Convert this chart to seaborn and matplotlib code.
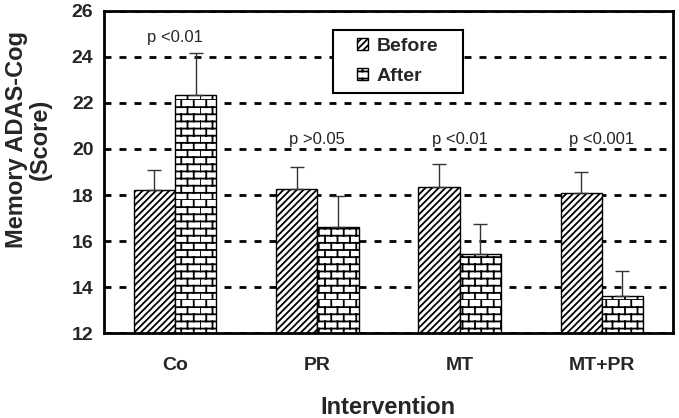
import numpy as np
import pandas as pd
import matplotlib
matplotlib.use("Agg")
import matplotlib.pyplot as plt
from matplotlib import hatch as mhatch
from matplotlib.path import Path
from matplotlib.patches import Rectangle
import seaborn as sns
import warnings
warnings.filterwarnings("ignore")

# data
groups = ["Co", "PR", "MT", "MT+PR"]
before = [18.2, 18.25, 18.35, 18.1]
before_err = [0.9, 0.95, 1.0, 0.9]
after = [22.33, 16.6, 15.45, 13.6]
after_err = [1.85, 1.35, 1.3, 1.1]
p_labels = ["p <0.01", "p >0.05", "p <0.01", "p <0.001"]
p_heights = [24.85, 20.4, 20.4, 20.4]


# brick hatch ('b'), matplotlib has no such pattern built in
class BrickHatch(mhatch.HatchPatternBase):
    def __init__(self, hatch, density):
        self.on = 'b' in hatch
        self.rows = 14
        self.cols = 8
        self.num_vertices = (self.rows * 2 + self.rows * self.cols * 2) if self.on else 0

    def set_vertices_and_codes(self, vertices, codes):
        h = 1.0 / self.rows
        w = 1.0 / self.cols
        k = 0
        for r in range(self.rows):
            y = r * h
            vertices[k] = (0, y); vertices[k + 1] = (1, y)
            codes[k] = Path.MOVETO; codes[k + 1] = Path.LINETO
            k += 2
            off = 0 if r % 2 == 0 else w / 2
            for c in range(self.cols):
                x = c * w + off
                vertices[k] = (x, y); vertices[k + 1] = (x, y + h)
                codes[k] = Path.MOVETO; codes[k + 1] = Path.LINETO
                k += 2


mhatch._hatch_types.append(BrickHatch)

df = pd.DataFrame({
    "Intervention": groups * 2,
    "Score": before + after,
    "Time": ["Before"] * 4 + ["After"] * 4,
})

sns.set_style("white")
plt.rcParams['font.family'] = ['Liberation Sans', 'DejaVu Sans']
plt.rcParams['hatch.linewidth'] = 1.3
plt.rcParams['hatch.color'] = 'black'

fig = plt.figure(figsize=(6.79, 4.18), dpi=100)
ax = fig.add_axes([0.153, 0.203, 0.838, 0.771])

sns.barplot(data=df, x="Intervention", y="Score", hue="Time", order=groups,
            hue_order=["Before", "After"], palette=["white", "white"],
            width=0.58, errorbar=None, edgecolor="black", linewidth=1.0,
            ax=ax, legend=False)

hatches = ["/////", "b"]
for cont, hp, vals, errs in zip(ax.containers, hatches, [before, after], [before_err, after_err]):
    xs = []
    for bar in cont:
        bar.set_hatch(hp)
        bar.set_edgecolor("black")
        xs.append(bar.get_x() + bar.get_width() / 2)
    ax.errorbar(xs, vals, yerr=[np.zeros(len(errs)), errs], fmt="none",
                ecolor="#333333", elinewidth=1.0, capsize=5, capthick=1.0, zorder=1)

for i, (lab, yy) in enumerate(zip(p_labels, p_heights)):
    ax.text(i, yy, lab, ha="center", va="center", fontsize=12)

ax.set_ylim(12, 26)
ax.set_xlim(-0.5, 3.5)
ax.set_yticks(range(12, 27, 2))
ax.yaxis.grid(True, color="black", linestyle=(0, (2.5, 2.9)), linewidth=2.0)
ax.set_axisbelow(True)

for s in ax.spines.values():
    s.set_linewidth(2.0)
    s.set_color("black")

ax.tick_params(axis="y", direction="inout", length=8, width=1.5, labelsize=14)
ax.tick_params(axis="x", which="major", length=0, labelsize=14, pad=17)
ax.set_xticks([0.5, 1.5, 2.5], minor=True)
ax.tick_params(axis="x", which="minor", direction="out", length=5, width=2)
for t in ax.get_xticklabels() + ax.get_yticklabels():
    t.set_fontweight("bold")

ax.set_xlabel("Intervention", fontsize=17, fontweight="bold", labelpad=16)
ax.set_ylabel("Memory ADAS-Cog\n(Score)", fontsize=17, fontweight="bold",
              linespacing=1.05)
ax.yaxis.set_label_coords(-0.092, 0.6)

# legend box (white, hides the grid behind it)
ax.add_patch(Rectangle((0.402, 0.745), 0.229, 0.196, transform=ax.transAxes,
                       facecolor="white", edgecolor="black", linewidth=1.5,
                       zorder=3))
handles = [cont[0] for cont in ax.containers]
leg = ax.legend(handles, ["Before", "After"], loc="center",
                bbox_to_anchor=(0.5165, 0.843), frameon=False,
                handlelength=0.57, handleheight=0.57, handletextpad=0.45,
                labelspacing=0.65, borderaxespad=0,
                prop={"weight": "bold", "size": 14})
leg.set_zorder(4)

fig.savefig("out.png", dpi=100)
